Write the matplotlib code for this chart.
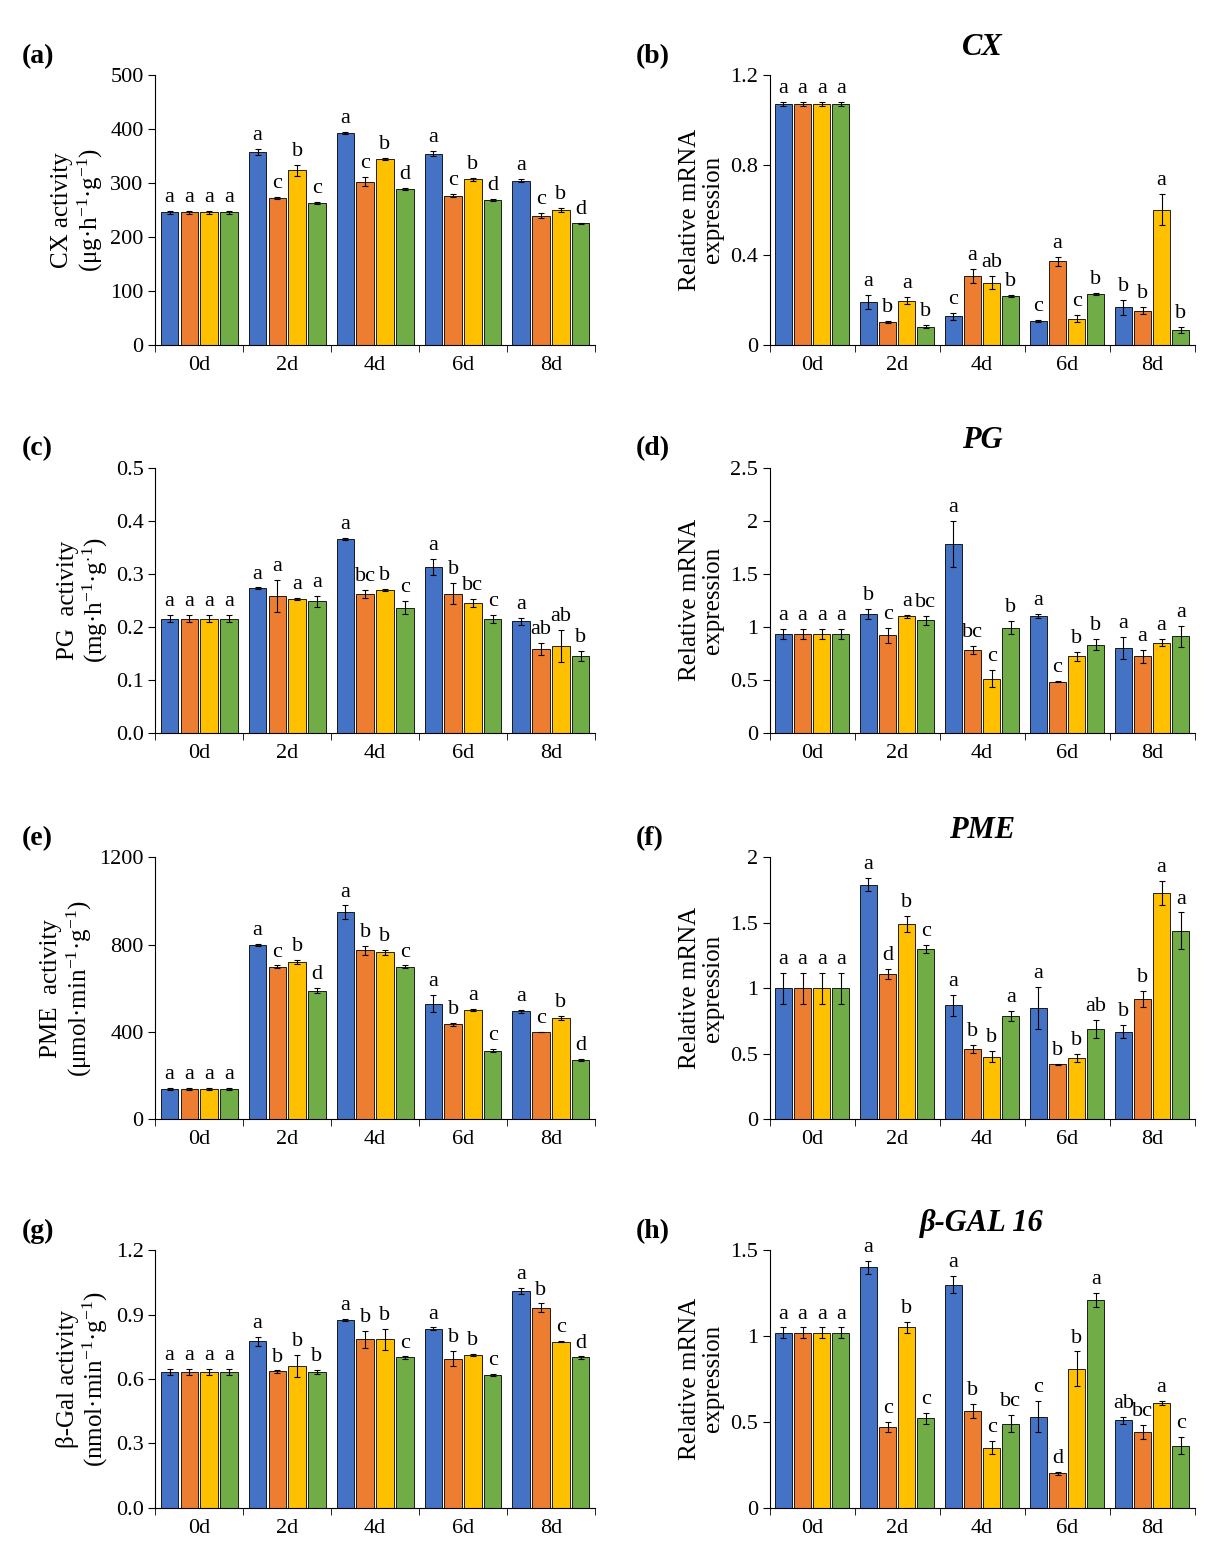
#!/usr/bin/env python3
"""
Cell-wall enzyme activity and gene expression panels (a)-(h).

Each panel: 4 treatments x 5 sampling days, mean +/- error, with
significance letters above each bar.
"""
import matplotlib
import matplotlib.pyplot as plt
import matplotlib.ticker as ticker

matplotlib.rcParams["font.family"] = "Liberation Serif"
matplotlib.rcParams["font.size"] = 16
matplotlib.rcParams["mathtext.default"] = "regular"

# ---------------------------------------------------------------------------
# Data
# ---------------------------------------------------------------------------
DAYS = ["0d", "2d", "4d", "6d", "8d"]
COLORS = ["#4472C4", "#ED7D31", "#FFC000", "#70AD47"]

# (a) CX activity
CX_ACT = [[245, 357, 392, 354, 304], [245, 271, 302, 276, 239],
          [245, 323, 344, 306, 249], [245, 262, 288, 268, 225]]
CX_ACT_ERR = [[3, 5, 2, 4, 3], [3, 2, 8, 3, 4], [3, 10, 2, 3, 4], [3, 2, 2, 1, 1]]
CX_ACT_LET = [["a", "a", "a", "a", "a"], ["a", "c", "c", "c", "c"],
              ["a", "b", "b", "b", "b"], ["a", "c", "d", "d", "d"]]

# (b) CX expression
CX_EXP = [[1.07, 0.19, 0.125, 0.105, 0.165], [1.07, 0.10, 0.305, 0.37, 0.15],
          [1.07, 0.195, 0.275, 0.115, 0.60], [1.07, 0.08, 0.215, 0.225, 0.065]]
CX_EXP_ERR = [[0.01, 0.03, 0.015, 0.005, 0.035], [0.01, 0.005, 0.03, 0.02, 0.015],
              [0.01, 0.015, 0.03, 0.015, 0.07], [0.01, 0.005, 0.005, 0.005, 0.015]]
CX_EXP_LET = [["a", "a", "c", "c", "b"], ["a", "b", "a", "a", "b"],
              ["a", "a", "ab", "c", "a"], ["a", "b", "b", "b", "b"]]

# (c) PG activity
PG_ACT = [[0.215, 0.273, 0.365, 0.312, 0.21], [0.215, 0.258, 0.262, 0.262, 0.158],
          [0.215, 0.253, 0.27, 0.245, 0.163], [0.215, 0.248, 0.236, 0.215, 0.145]]
PG_ACT_ERR = [[0.007, 0.001, 0.002, 0.015, 0.006], [0.007, 0.03, 0.008, 0.02, 0.012],
              [0.007, 0.002, 0.002, 0.008, 0.03], [0.007, 0.01, 0.012, 0.008, 0.01]]
PG_ACT_LET = [["a", "a", "a", "a", "a"], ["a", "a", "bc", "b", "ab"],
              ["a", "a", "b", "bc", "ab"], ["a", "a", "c", "c", "b"]]

# (d) PG expression
PG_EXP = [[0.93, 1.12, 1.78, 1.10, 0.80], [0.93, 0.92, 0.78, 0.48, 0.72],
          [0.93, 1.10, 0.51, 0.72, 0.85], [0.93, 1.06, 0.99, 0.83, 0.91]]
PG_EXP_ERR = [[0.05, 0.05, 0.22, 0.02, 0.10], [0.05, 0.07, 0.04, 0.005, 0.06],
              [0.05, 0.015, 0.08, 0.04, 0.03], [0.05, 0.04, 0.06, 0.05, 0.10]]
PG_EXP_LET = [["a", "b", "a", "a", "a"], ["a", "c", "bc", "c", "a"],
              ["a", "a", "c", "b", "a"], ["a", "bc", "b", "b", "a"]]

# (e) PME activity
PME_ACT = [[140, 800, 950, 530, 495], [140, 700, 775, 435, 400],
           [140, 720, 765, 500, 465], [140, 590, 700, 315, 272]]
PME_ACT_ERR = [[5, 5, 30, 40, 8], [5, 5, 20, 8, 1], [5, 10, 10, 5, 8], [5, 10, 5, 8, 5]]
PME_ACT_LET = [["a", "a", "a", "a", "a"], ["a", "c", "b", "b", "c"],
               ["a", "b", "b", "a", "b"], ["a", "d", "c", "c", "d"]]

# (f) PME expression
PME_EXP = [[1.0, 1.79, 0.87, 0.85, 0.67], [1.0, 1.11, 0.54, 0.42, 0.92],
           [1.0, 1.49, 0.48, 0.47, 1.73], [1.0, 1.30, 0.79, 0.69, 1.44]]
PME_EXP_ERR = [[0.12, 0.05, 0.08, 0.16, 0.05], [0.12, 0.04, 0.03, 0.005, 0.06],
               [0.12, 0.06, 0.04, 0.03, 0.09], [0.12, 0.03, 0.04, 0.07, 0.14]]
PME_EXP_LET = [["a", "a", "a", "a", "b"], ["a", "d", "b", "b", "b"],
               ["a", "b", "b", "b", "a"], ["a", "c", "a", "ab", "a"]]

# (g) beta-Gal activity
GAL_ACT = [[0.632, 0.775, 0.875, 0.835, 1.01], [0.632, 0.635, 0.785, 0.695, 0.932],
           [0.632, 0.66, 0.785, 0.71, 0.773], [0.632, 0.632, 0.70, 0.62, 0.70]]
GAL_ACT_ERR = [[0.015, 0.02, 0.003, 0.005, 0.015], [0.015, 0.005, 0.04, 0.035, 0.02],
               [0.015, 0.05, 0.05, 0.005, 0.003], [0.015, 0.01, 0.005, 0.005, 0.005]]
GAL_ACT_LET = [["a", "a", "a", "a", "a"], ["a", "b", "b", "b", "b"],
               ["a", "b", "b", "b", "c"], ["a", "b", "c", "c", "d"]]

# (h) beta-GAL 16 expression
GAL_EXP = [[1.02, 1.40, 1.30, 0.53, 0.51], [1.02, 0.47, 0.565, 0.20, 0.44],
           [1.02, 1.05, 0.35, 0.81, 0.61], [1.02, 0.52, 0.49, 1.21, 0.36]]
GAL_EXP_ERR = [[0.03, 0.04, 0.05, 0.09, 0.02], [0.03, 0.03, 0.04, 0.01, 0.04],
               [0.03, 0.03, 0.04, 0.10, 0.01], [0.03, 0.03, 0.05, 0.04, 0.05]]
GAL_EXP_LET = [["a", "a", "a", "c", "ab"], ["a", "c", "b", "d", "bc"],
               ["a", "b", "c", "b", "a"], ["a", "c", "bc", "a", "c"]]

MRNA = "Relative mRNA\nexpression"
PANELS = [
    # tag, title, data, err, letters, ylabel, ymax, step, fmt
    ("(a)", None, CX_ACT, CX_ACT_ERR, CX_ACT_LET,
     "CX activity\n(μg·h$^{-1}$·g$^{-1}$)", 500, 100, "{:.0f}"),
    ("(b)", "CX", CX_EXP, CX_EXP_ERR, CX_EXP_LET, MRNA, 1.2, 0.4, "{:g}"),
    ("(c)", None, PG_ACT, PG_ACT_ERR, PG_ACT_LET,
     "PG  activity\n(mg·h$^{-1}$·g$^{\\cdot}$$^{1}$)", 0.5, 0.1, "{:.1f}"),
    ("(d)", "PG", PG_EXP, PG_EXP_ERR, PG_EXP_LET, MRNA, 2.5, 0.5, "{:g}"),
    ("(e)", None, PME_ACT, PME_ACT_ERR, PME_ACT_LET,
     "PME  activity\n(μmol·min$^{-1}$·g$^{-1}$)", 1200, 400, "{:.0f}"),
    ("(f)", "PME", PME_EXP, PME_EXP_ERR, PME_EXP_LET, MRNA, 2.0, 0.5, "{:g}"),
    ("(g)", None, GAL_ACT, GAL_ACT_ERR, GAL_ACT_LET,
     "β-Gal activity\n(nmol·min$^{-1}$·g$^{-1}$)", 1.2, 0.3, "{:.1f}"),
    ("(h)", "β-GAL 16", GAL_EXP, GAL_EXP_ERR, GAL_EXP_LET, MRNA, 1.5, 0.5, "{:g}"),
]

# axes rectangles in figure fractions
LEFT_X, LEFT_W = 0.128, 0.362
RIGHT_X, RIGHT_W = 0.634, 0.350
ROWS = [(0.779, 0.173), (0.530, 0.170), (0.282, 0.168), (0.033, 0.165)]

BAR_W = 0.2
STEP = 0.225


def plot_panel(fig, rect, tag, title, data, err, letters, ylabel, ymax, step, fmt):
    """Draw one grouped bar panel."""
    ax = fig.add_axes(rect)
    for k in range(4):
        xs = [g + (k - 1.5) * STEP for g in range(len(DAYS))]
        ax.bar(xs, data[k], width=BAR_W, color=COLORS[k], edgecolor="black",
               linewidth=0.6, yerr=err[k], capsize=2.5,
               error_kw={"elinewidth": 0.8, "capthick": 0.8}, zorder=2)
        for x, v, e, lab in zip(xs, data[k], err[k], letters[k]):
            ax.text(x, v + e + ymax * 0.015, lab, ha="center", va="bottom", fontsize=16)

    ax.set_xlim(-0.5, len(DAYS) - 0.5)
    ax.set_xticks(range(len(DAYS)))
    ax.set_xticklabels(DAYS)
    ax.tick_params(axis="x", which="major", length=0, pad=8)
    ax.xaxis.set_minor_locator(ticker.FixedLocator([i - 0.5 for i in range(len(DAYS) + 1)]))
    ax.tick_params(axis="x", which="minor", length=5)
    ax.set_ylim(0, ymax)
    ax.yaxis.set_major_locator(ticker.MultipleLocator(step))
    ax.yaxis.set_major_formatter(ticker.FuncFormatter(lambda v, _: fmt.format(round(v, 3))))
    ax.tick_params(axis="y", length=5)
    ax.set_ylabel(ylabel, fontsize=18, linespacing=1.1)
    ax.spines["top"].set_visible(False)
    ax.spines["right"].set_visible(False)

    if title:
        ax.set_title(title, fontsize=22, fontweight="bold", style="italic", pad=14)
    fig.text(rect[0] - 0.11, rect[1] + rect[3] + 0.012, tag,
             fontsize=20, fontweight="bold", ha="left", va="center")
    return ax


def main():
    fig = plt.figure(figsize=(12.14, 15.59), dpi=100)
    for i, panel in enumerate(PANELS):
        row, col = divmod(i, 2)
        bottom, height = ROWS[row]
        x0, w = (LEFT_X, LEFT_W) if col == 0 else (RIGHT_X, RIGHT_W)
        plot_panel(fig, [x0, bottom, w, height], *panel)
    fig.savefig("out.png", dpi=100)
    plt.close(fig)


if __name__ == "__main__":
    main()
